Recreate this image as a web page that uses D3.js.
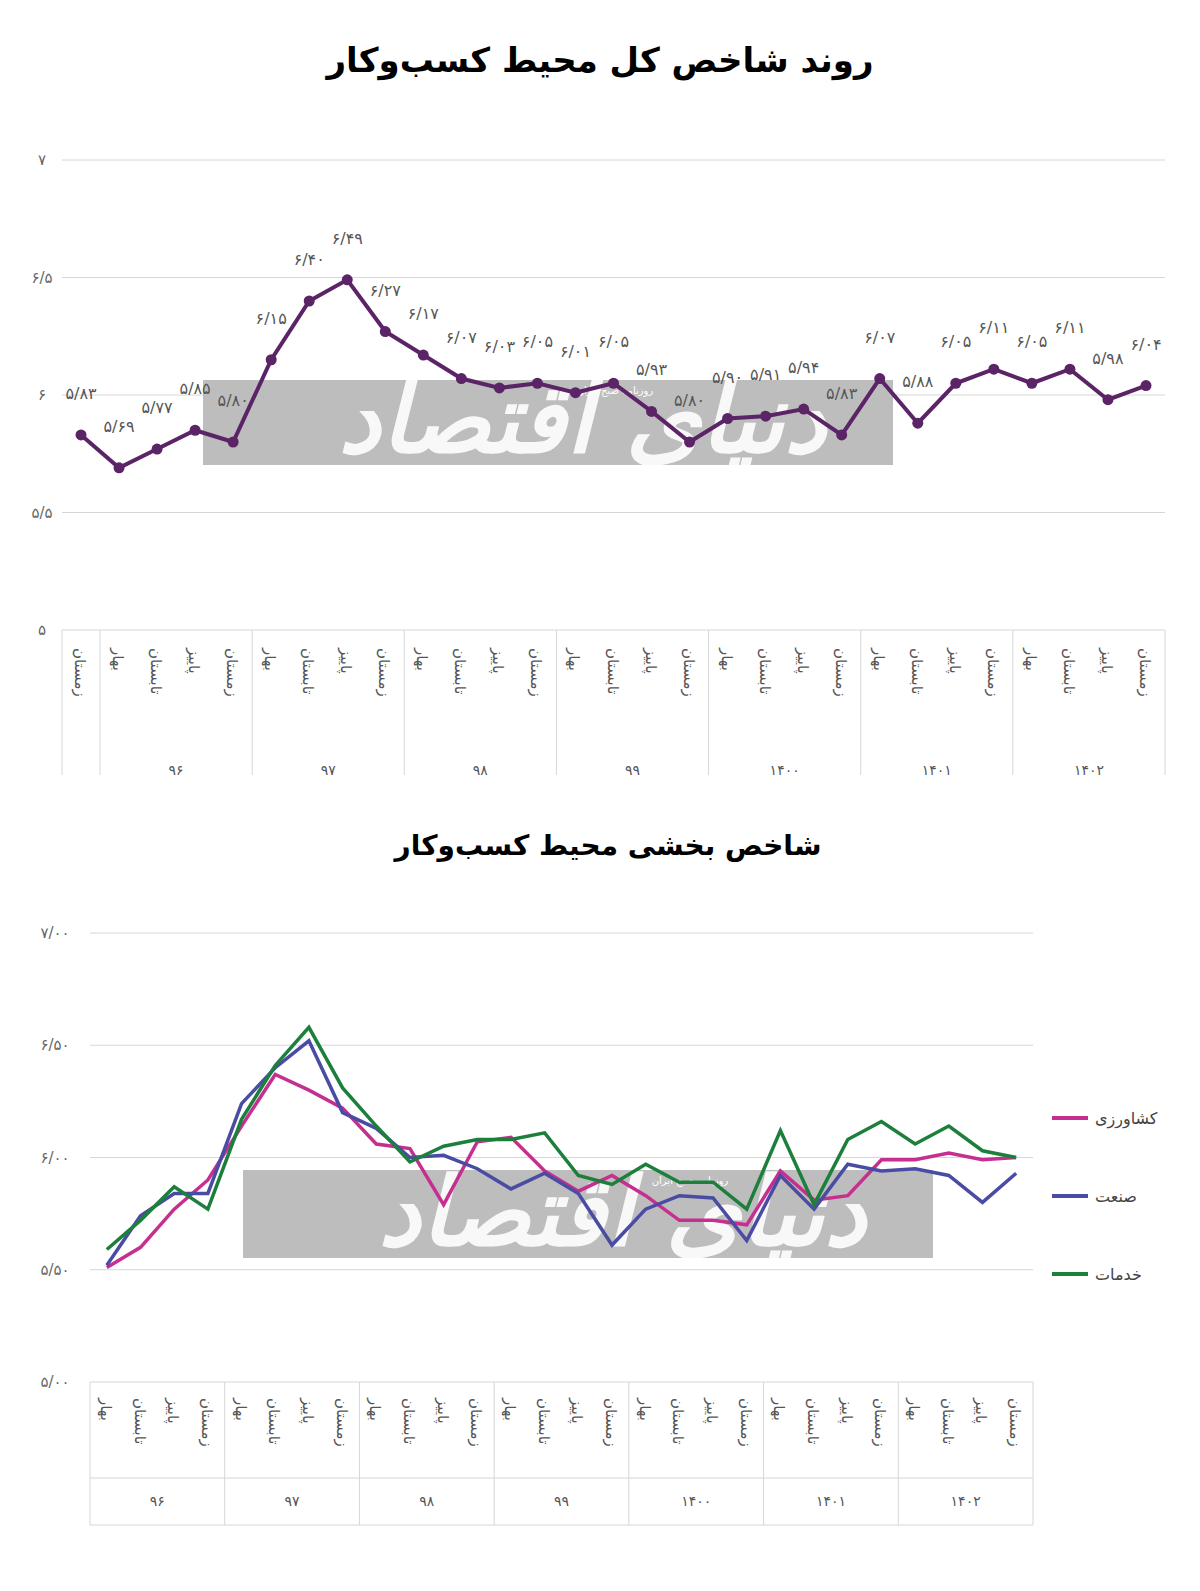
<!DOCTYPE html>
<html><head><meta charset="utf-8">
<script src="https://cdn.jsdelivr.net/npm/d3@7"></script>
<style>html,body{margin:0;background:#fff;overflow:hidden}svg{display:block;font-family:"DejaVu Sans",sans-serif}</style>
</head><body><svg id="c" width="1200" height="1591"></svg>
<script>
// season / year labels
var seasons = ["بهار", "تابستان", "پاییز", "زمستان"];
var years = ["۹۶", "۹۷", "۹۸", "۹۹", "۱۴۰۰", "۱۴۰۱", "۱۴۰۲"];

// total index: winter 95, then 96..1402
var totalValues = [5.83, 5.69, 5.77, 5.85, 5.80, 6.15, 6.40, 6.49, 6.27, 6.17, 6.07, 6.03, 6.05, 6.01, 6.05, 5.93, 5.80, 5.90, 5.91, 5.94, 5.83, 6.07, 5.88, 6.05, 6.11, 6.05, 6.11, 5.98, 6.04];

// sector index 96..1402
var agri = [5.51, 5.60, 5.77, 5.90, 6.14, 6.37, 6.30, 6.22, 6.06, 6.04, 5.79, 6.07, 6.09, 5.94, 5.85, 5.92, 5.83, 5.72, 5.72, 5.70, 5.94, 5.81, 5.83, 5.99, 5.99, 6.02, 5.99, 6.00];
var industry = [5.52, 5.74, 5.84, 5.84, 6.24, 6.40, 6.52, 6.20, 6.13, 6.00, 6.01, 5.95, 5.86, 5.93, 5.84, 5.61, 5.77, 5.83, 5.82, 5.63, 5.92, 5.77, 5.97, 5.94, 5.95, 5.92, 5.80, 5.93];
var services = [5.59, 5.72, 5.87, 5.77, 6.17, 6.41, 6.58, 6.31, 6.14, 5.98, 6.05, 6.08, 6.08, 6.11, 5.92, 5.88, 5.97, 5.89, 5.89, 5.77, 6.12, 5.79, 6.08, 6.16, 6.06, 6.14, 6.03, 6.00];

var sectorNames = ["کشاورزی", "صنعت", "خدمات"];
var sectorColors = ["#c52f8f", "#4a4ca3", "#1d7f3c"];

function fa(s) { return String(s).replace(/[0-9]/g, function (d) { return "۰۱۲۳۴۵۶۷۸۹"[d]; }).replace(".", "/"); }

var svg = d3.select("#c");

function watermark(x, y, w, h, tx) {
  svg.append("rect").attr("x", x).attr("y", y).attr("width", w).attr("height", h).attr("fill", "#bdbdbd");
  svg.append("text").attr("x", x + w * 0.55).attr("y", y + h * 0.85).attr("text-anchor", "middle")
    .attr("font-size", 95).attr("font-weight", "bold").attr("fill", "#fff").attr("opacity", 0.9)
    .attr("font-style", "italic").text("دنیای اقتصاد");
  svg.append("text").attr("x", tx).attr("y", y + 14).attr("text-anchor", "middle")
    .attr("font-size", 10).attr("fill", "#fff").text("روزنامه صبح ایران");
}

// ---------- chart 1 ----------
svg.append("text").attr("x", 600).attr("y", 72).attr("text-anchor", "middle")
  .attr("font-size", 34).attr("font-weight", "bold").text("روند شاخص کل محیط کسب‌وکار");

var x1 = d3.scaleBand().domain(d3.range(totalValues.length)).range([62, 1165]);
var y1 = d3.scaleLinear().domain([5, 7]).range([630, 160]);

[5, 5.5, 6, 6.5, 7].forEach(function (t) {
  svg.append("line").attr("x1", 62).attr("x2", 1165).attr("y1", y1(t)).attr("y2", y1(t)).attr("stroke", "#d6d6d6");
  svg.append("text").attr("x", 42).attr("y", y1(t) + 5).attr("text-anchor", "middle")
    .attr("font-size", 15).attr("fill", "#666").text(fa(t));
});

watermark(203, 380, 690, 85, 615);

// category axis 1
var labels1 = ["زمستان"];
years.forEach(function () { labels1 = labels1.concat(seasons); });
labels1.forEach(function (l, i) {
  var cx = x1(i) + x1.bandwidth() / 2;
  svg.append("text").attr("transform", "translate(" + (cx - 6) + ",648) rotate(90)")
    .attr("font-size", 15).attr("fill", "#555").text(l);
});
var sep1 = [0, 1, 5, 9, 13, 17, 21, 25, 29];
sep1.forEach(function (k) {
  var xx = k < 29 ? x1(k) : 1165;
  svg.append("line").attr("x1", xx).attr("x2", xx).attr("y1", 630).attr("y2", 775).attr("stroke", "#d6d6d6");
});
years.forEach(function (yr, j) {
  svg.append("text").attr("x", (x1(1 + 4 * j) + (j < 6 ? x1(5 + 4 * j) : 1165)) / 2).attr("y", 775)
    .attr("text-anchor", "middle").attr("font-size", 14).attr("fill", "#555").text(yr);
});

var line1 = d3.line().x(function (d, i) { return x1(i) + x1.bandwidth() / 2; }).y(function (d) { return y1(d); });
svg.append("path").datum(totalValues).attr("d", line1).attr("fill", "none").attr("stroke", "#5b2466").attr("stroke-width", 4);
svg.selectAll(".pt").data(totalValues).enter().append("circle")
  .attr("cx", function (d, i) { return x1(i) + x1.bandwidth() / 2; }).attr("cy", function (d) { return y1(d); })
  .attr("r", 5.5).attr("fill", "#5b2466");
svg.selectAll(".lb").data(totalValues).enter().append("text")
  .attr("x", function (d, i) { return x1(i) + x1.bandwidth() / 2; })
  .attr("y", function (d) { return y1(d) - 36; })
  .attr("text-anchor", "middle").attr("font-size", 16).attr("fill", "#555").text(function (d) { return fa(d.toFixed(2)); });

// ---------- chart 2 ----------
svg.append("text").attr("x", 608).attr("y", 855).attr("text-anchor", "middle")
  .attr("font-size", 28).attr("font-weight", "bold").text("شاخص بخشی محیط کسب‌وکار");

var x2 = d3.scaleBand().domain(d3.range(agri.length)).range([90, 1033]);
var y2 = d3.scaleLinear().domain([5, 7]).range([1382, 933]);

[5, 5.5, 6, 6.5, 7].forEach(function (t) {
  svg.append("line").attr("x1", 90).attr("x2", 1033).attr("y1", y2(t)).attr("y2", y2(t)).attr("stroke", "#d6d6d6");
  svg.append("text").attr("x", 55).attr("y", y2(t) + 5).attr("text-anchor", "middle")
    .attr("font-size", 15).attr("fill", "#666").text(fa(t.toFixed(2)));
});

watermark(243, 1170, 690, 88, 690);

var labels2 = [];
years.forEach(function () { labels2 = labels2.concat(seasons); });
labels2.forEach(function (l, i) {
  var cx = x2(i) + x2.bandwidth() / 2;
  svg.append("text").attr("transform", "translate(" + (cx - 6) + ",1398) rotate(90)")
    .attr("font-size", 15).attr("fill", "#555").text(l);
});
d3.range(8).forEach(function (j) {
  var xx = j < 7 ? x2(4 * j) : 1033;
  svg.append("line").attr("x1", xx).attr("x2", xx).attr("y1", 1382).attr("y2", 1525).attr("stroke", "#d6d6d6");
});
svg.append("line").attr("x1", 90).attr("x2", 1033).attr("y1", 1478).attr("y2", 1478).attr("stroke", "#d6d6d6");
svg.append("line").attr("x1", 90).attr("x2", 1033).attr("y1", 1525).attr("y2", 1525).attr("stroke", "#d6d6d6");
years.forEach(function (yr, j) {
  svg.append("text").attr("x", (x2(4 * j) + (j < 6 ? x2(4 * j + 4) : 1033)) / 2).attr("y", 1506)
    .attr("text-anchor", "middle").attr("font-size", 14).attr("fill", "#555").text(yr);
});

var line2 = d3.line().x(function (d, i) { return x2(i) + x2.bandwidth() / 2; }).y(function (d) { return y2(d); });
[agri, industry, services].forEach(function (s, k) {
  svg.append("path").datum(s).attr("d", line2).attr("fill", "none").attr("stroke", sectorColors[k]).attr("stroke-width", 3.5);
});

sectorNames.forEach(function (n, k) {
  var ly = 1118 + k * 78;
  svg.append("line").attr("x1", 1052).attr("x2", 1088).attr("y1", ly).attr("y2", ly).attr("stroke", sectorColors[k]).attr("stroke-width", 4);
  svg.append("text").attr("x", 1095).attr("y", ly + 6).attr("font-size", 16).attr("fill", "#444").text(n);
});
</script></body></html>
